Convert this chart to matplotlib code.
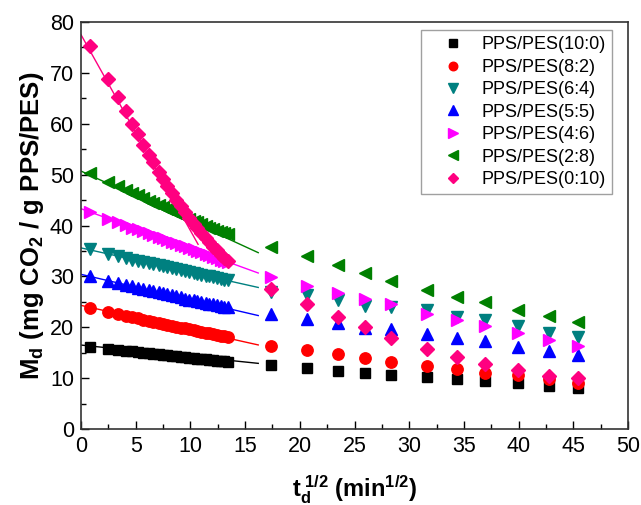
import matplotlib
matplotlib.use("Agg")
import matplotlib.pyplot as plt
import numpy as np
from matplotlib.ticker import MultipleLocator

plt.rcParams['font.family'] = ['Liberation Sans', 'DejaVu Sans']
plt.rcParams['mathtext.fontset'] = 'custom'
plt.rcParams['mathtext.rm'] = 'Liberation Sans'
plt.rcParams['mathtext.bf'] = 'Liberation Sans:bold'
plt.rcParams['mathtext.it'] = 'Liberation Sans:italic'

# sqrt(t_d) values (min^1/2)
x_vals = [0.8, 2.5, 3.4, 4.1, 4.7, 5.2, 5.7, 6.2, 6.6, 7.1, 7.5, 7.9, 8.3, 8.7,
          9.1, 9.5, 9.9, 10.3, 10.6, 11.0, 11.4, 11.7, 12.1, 12.4, 12.8, 13.1, 13.4,
          17.4, 20.7, 23.5, 26.0, 28.3, 31.6, 34.4, 36.9, 39.9, 42.8, 45.4]

labels = ['PPS/PES(10:0)', 'PPS/PES(8:2)', 'PPS/PES(6:4)', 'PPS/PES(5:5)',
          'PPS/PES(4:6)', 'PPS/PES(2:8)', 'PPS/PES(0:10)']

y_10_0 = [16.2, 15.8, 15.6, 15.4, 15.3, 15.1, 15.0, 14.9, 14.8, 14.7, 14.6, 14.5, 14.4, 14.3,
          14.2, 14.1, 14.0, 13.9, 13.85, 13.8, 13.7, 13.6, 13.5, 13.45, 13.4, 13.3, 13.25,
          12.6, 12.0, 11.45, 11.06, 10.67, 10.3, 9.8, 9.4, 9.0, 8.5, 8.1]
y_8_2 = [23.8, 23.0, 22.6, 22.3, 22.0, 21.8, 21.5, 21.3, 21.1, 20.9, 20.7, 20.5, 20.3, 20.1,
         19.9, 19.8, 19.6, 19.4, 19.3, 19.1, 18.9, 18.8, 18.6, 18.5, 18.3, 18.2, 18.1,
         16.3, 15.5, 14.7, 14.0, 13.2, 12.4, 11.7, 11.06, 10.6, 9.8, 9.1]
y_6_4 = [35.3, 34.4, 34.0, 33.6, 33.3, 33.1, 32.9, 32.6, 32.4, 32.2, 32.0, 31.8, 31.6, 31.4,
         31.2, 31.0, 30.8, 30.7, 30.5, 30.3, 30.1, 30.0, 29.8, 29.6, 29.5, 29.3, 29.2,
         27.0, 26.3, 25.3, 24.2, 24.0, 23.4, 22.1, 21.5, 20.2, 18.9, 18.1]
y_5_5 = [30.0, 29.15, 28.7, 28.35, 28.05, 27.8, 27.55, 27.3, 27.1, 26.85, 26.65, 26.45, 26.25, 26.05,
         25.85, 25.65, 25.45, 25.3, 25.15, 24.95, 24.8, 24.65, 24.5, 24.35, 24.2, 24.05, 23.9,
         22.7, 21.7, 20.8, 19.8, 19.6, 18.6, 17.8, 17.2, 16.2, 15.3, 14.5]
y_4_6 = [42.7, 41.35, 40.65, 40.1, 39.6, 39.25, 38.85, 38.5, 38.15, 37.8, 37.45, 37.15, 36.8, 36.5,
         36.2, 35.9, 35.6, 35.3, 35.0, 34.7, 34.4, 34.2, 33.9, 33.6, 33.3, 33.1, 32.85,
         29.9, 28.1, 26.8, 25.5, 24.5, 22.6, 21.5, 20.2, 18.8, 17.5, 16.3]
y_2_8 = [50.4, 48.6, 47.7, 47.0, 46.4, 45.9, 45.4, 44.9, 44.5, 44.0, 43.6, 43.2, 42.8, 42.4,
         42.0, 41.6, 41.3, 40.9, 40.6, 40.2, 39.9, 39.6, 39.3, 39.0, 38.7, 38.5, 38.3,
         35.8, 34.0, 32.2, 30.7, 29.1, 27.4, 26.0, 25.0, 23.4, 22.2, 21.1]
y_0_10 = [75.3, 68.8, 65.2, 62.6, 60.0, 57.9, 55.8, 53.8, 52.4, 50.6, 49.2, 47.8, 46.4, 45.1,
          43.8, 42.6, 41.4, 40.3, 39.5, 38.5, 37.5, 36.8, 35.8, 35.1, 34.2, 33.6, 33.0,
          27.6, 24.5, 22.1, 20.1, 17.9, 15.7, 14.2, 12.8, 11.5, 10.4, 10.1]

# linear fits of the early-time data: intercept, slope, end of fitted range
fit_intercept = [16.5, 24.3, 35.6, 30.4, 43.3, 50.7, 77.5]
fit_slope = [-0.222, -0.48, -0.48, -0.50, -0.78, -0.99, -3.85]
fit_xend = [16.2, 16.2, 16.2, 16.2, 16.2, 16.2, 10.7]

series = [y_10_0, y_8_2, y_6_4, y_5_5, y_4_6, y_2_8, y_0_10]
colors = ['#000000', '#ff0000', '#008080', '#0000ff', '#ff00ff', '#008000', '#ff0080']
markers = ['s', 'o', 'v', '^', '>', '<', 'D']
msizes = [7.2, 8.2, 9.0, 9.0, 9.0, 9.0, 6.8]

fig = plt.figure(figsize=(6.41, 5.05), dpi=100)
ax = fig.add_axes([0.1264, 0.1505, 0.8533, 0.8059])

for i in range(len(series)):
    xf = np.array([0.0, fit_xend[i]])
    ax.plot(xf, fit_intercept[i] + fit_slope[i] * xf, '-', color=colors[i], lw=1.0, zorder=2)

for i in range(len(series)):
    ax.plot(x_vals, series[i], linestyle='none', marker=markers[i], ms=msizes[i],
            color=colors[i], mec=colors[i], label=labels[i], zorder=3)

ax.set_xlim(0, 50)
ax.set_ylim(0, 80)
ax.xaxis.set_major_locator(MultipleLocator(5))
ax.xaxis.set_minor_locator(MultipleLocator(2.5))
ax.yaxis.set_major_locator(MultipleLocator(10))
ax.yaxis.set_minor_locator(MultipleLocator(5))
ax.tick_params(which='both', direction='in', top=False, right=False, labelsize=15.5, width=1.0)
ax.tick_params(which='major', length=6, pad=5)
ax.tick_params(which='minor', length=3.5)
for sp in ax.spines.values():
    sp.set_linewidth(1.2)
    sp.set_color('#333333')

ax.set_xlabel(r'$\mathbf{t_d^{\ 1/2}}$ (min$^{\mathbf{1/2}}$)', fontsize=17, fontweight='bold', labelpad=12)
ax.set_ylabel(r'M$_{\mathbf{d}}$ (mg CO$_{\mathbf{2}}$ / g PPS/PES)', fontsize=18.5, fontweight='bold', labelpad=3)

leg = ax.legend(loc='upper right', bbox_to_anchor=(0.971, 0.98), borderaxespad=0.0, fontsize=13,
                frameon=True, fancybox=False, edgecolor='#888888', handletextpad=0.2, borderpad=0.35,
                labelspacing=0.3, handlelength=2.8, markerscale=0.75)
leg.get_frame().set_linewidth(1.0)

fig.savefig('out.png', dpi=100)
